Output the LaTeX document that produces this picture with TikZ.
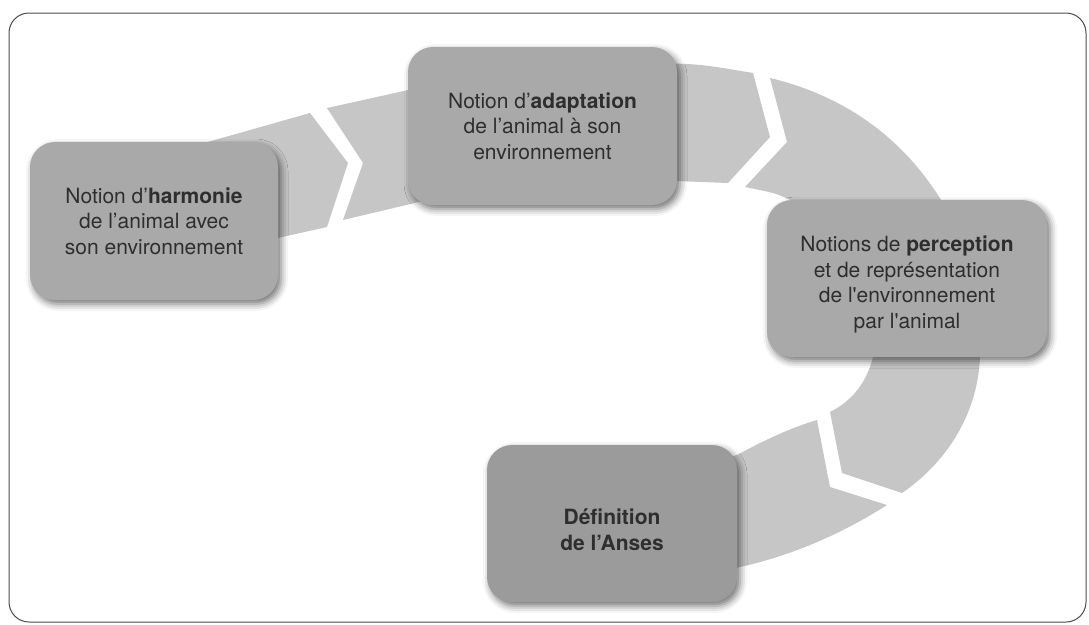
\documentclass[tikz,border=0pt]{standalone}
\usepackage{fontspec}
\setmainfont{TeX Gyre Heros}[Ligatures=TeXOff]
\usetikzlibrary{shadows.blur}

\definecolor{bandgray}{HTML}{C6C6C6}
\definecolor{boxgray}{HTML}{A9A9A9}
\definecolor{darkbox}{HTML}{9B9B9B}
\definecolor{inkgray}{HTML}{2E2E2E}

\begin{document}
\begin{tikzpicture}[x=1pt,y=-1pt,
    band/.style={fill=bandgray},
    notiontext/.style={align=center,text=inkgray,font=\fontsize{21}{25.5}\selectfont,inner sep=0pt},
    notion/.style={notiontext,fill=boxgray,rounded corners=25pt,minimum height=158pt,
      blur shadow={shadow xshift=3pt,shadow yshift=-4pt,shadow blur radius=7pt,shadow opacity=55}},
    lastnotion/.style={notion,fill=darkbox}]
  \useasboundingbox (0,0) rectangle (1089,624);
  \draw[rounded corners=20pt,line width=1pt,draw=black!70] (9,13) rectangle (1086,622);

  % band, behind the boxes
  \fill[band] (190,147) -- (310,113) -- (348,163) -- (327,227) -- (260,242) -- cycle;
  \fill[band] (327,108) -- (440,83) -- (440,197) -- (343,220) -- (363,163) -- cycle;
  \fill[band] (650,63) .. controls (700,64) .. (753,73) -- (770,137) -- (728,183) -- (650,180) -- cycle;
  \fill[band] (770,78) .. controls (850,97) and (915,145) .. (955,225) -- (805,225) -- (790,200)
    .. controls (775,193) .. (745,187) -- (787,142) -- cycle;
  \fill[band] (873,340) -- (873,357) .. controls (866,385) and (850,402) .. (830,412) -- (842,473)
    -- (902,493) .. controls (950,460) and (978,410) .. (980,357) -- (980,340) -- cycle;
  \fill[band] (817,420) -- (830,487) -- (887,505) .. controls (840,535) and (790,556) .. (740,567)
    -- (700,578) -- (700,465) -- (737,455) .. controls (765,440) and (790,428) .. (817,420) -- cycle;

  \node[notion,minimum width=248pt] (harmonie)   at (154,221)
    {Notion d’\textbf{harmonie}\\de l’animal avec\\son environnement};
  \node[notion,minimum width=269pt] (adaptation) at (542.5,126)
    {Notion d’\textbf{adaptation}\\de l’animal à son\\environnement};
  \node[notion,minimum width=280pt,minimum height=157pt] (perception) at (907,278.5) {};
  \node[notiontext] (perception text) at ([yshift=-6pt]perception.center)
    {Notions de \textbf{perception}\\et de représentation\\de l'environnement\\par l'animal};
  \node[lastnotion,minimum width=250pt,minimum height=157pt] (anses) at (612,523.5) {};
  \node[notiontext] (anses text) at ([yshift=-6pt]anses.center)
    {\textbf{Définition}\\\textbf{de l’Anses}};
\end{tikzpicture}
\end{document}
